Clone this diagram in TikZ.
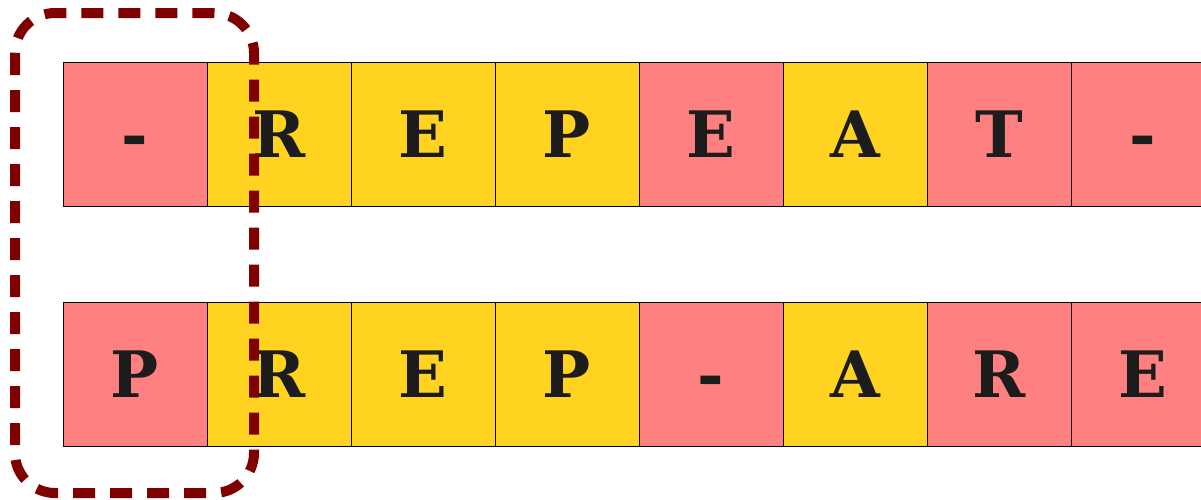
\documentclass[tikz,border=0pt]{standalone}
\usepackage{fontspec}
\setmainfont{DejaVu Serif}
\definecolor{cellred}{HTML}{FF8080}
\definecolor{cellyellow}{HTML}{FFD320}
\definecolor{boxred}{HTML}{800000}
\definecolor{lettergray}{HTML}{1C1C1C}
\tikzset{
  cell/.style={draw=black, line width=0.8pt, minimum size=144pt, inner sep=0pt,
    text=lettergray, font=\fontsize{64}{64}\selectfont\bfseries,
    text height=46.7pt, text depth=0pt},
  window/.style={draw=boxred, line width=10pt, dash pattern=on 22pt off 15pt,
    rounded corners=40pt}
}
\begin{document}
\begin{tikzpicture}[x=1pt, y=-1pt]
    \useasboundingbox (0,0) rectangle (1201,499);
    % upper row
    \foreach \ch/\col [count=\i from 0] in {-/cellred, R/cellyellow, E/cellyellow,
        P/cellyellow, E/cellred, A/cellyellow, T/cellred, -/cellred}
      \node[cell, fill=\col] (top\i) at (135+144*\i,134) {\ch};
    % lower row
    \foreach \ch/\col [count=\i from 0] in {P/cellred, R/cellyellow, E/cellyellow,
        P/cellyellow, -/cellred, A/cellyellow, R/cellred, E/cellred}
      \node[cell, fill=\col] (bot\i) at (135+144*\i,374) {\ch};
    % dashed window over the first column
    \draw[window] (15,13) rectangle (254,493);
\end{tikzpicture}
\end{document}
